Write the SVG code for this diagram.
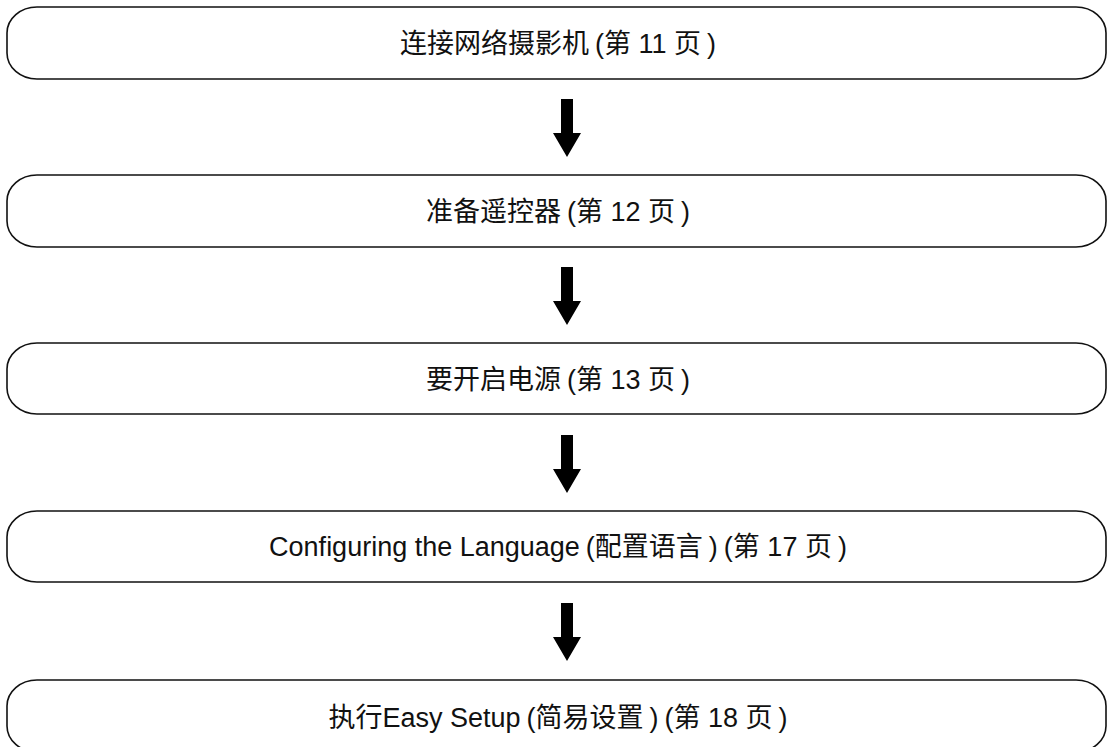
<svg xmlns="http://www.w3.org/2000/svg" width="1107" height="747" viewBox="0 0 1107 747">
<style>
.box{fill:#fff;stroke:#111;stroke-width:1.6}
.lbl{font-family:"Liberation Sans","Noto Sans CJK SC",sans-serif;font-size:27px;fill:#111;text-anchor:middle}
.arr{fill:#000}
</style>
<defs>
<path id="arrow" d="M561,0 H573 V34 H581 L567,58 L553,34 H561 Z"/>
</defs>
<rect width="1107" height="747" fill="#fff"/>
<g id="node1"><rect class="box" x="7" y="7" width="1099" height="72" rx="30" ry="26"/><text class="lbl" x="558" y="53">连接网络摄影机<tspan dx="6">(</tspan>第 11 页<tspan dx="6">)</tspan></text></g>
<g id="node2"><rect class="box" x="7" y="175" width="1099" height="72" rx="30" ry="26"/><text class="lbl" x="558" y="221">准备遥控器<tspan dx="6">(</tspan>第 12 页<tspan dx="6">)</tspan></text></g>
<g id="node3"><rect class="box" x="7" y="343" width="1099" height="71" rx="30" ry="26"/><text class="lbl" x="558" y="389">要开启电源<tspan dx="6">(</tspan>第 13 页<tspan dx="6">)</tspan></text></g>
<g id="node4"><rect class="box" x="7" y="511" width="1099" height="71" rx="30" ry="26"/><text class="lbl" x="558" y="556">Configuring the Language<tspan dx="6">(</tspan>配置语言<tspan dx="6">)</tspan><tspan dx="6">(</tspan>第 17 页<tspan dx="6">)</tspan></text></g>
<g id="node5"><rect class="box" x="7" y="680" width="1099" height="72" rx="30" ry="26"/><text class="lbl" x="558" y="727">执行Easy Setup<tspan dx="6">(</tspan>简易设置<tspan dx="6">)</tspan><tspan dx="6">(</tspan>第 18 页<tspan dx="6">)</tspan></text></g>
<g id="connectors">
<use href="#arrow" class="arr" y="99"/>
<use href="#arrow" class="arr" y="267"/>
<use href="#arrow" class="arr" y="435"/>
<use href="#arrow" class="arr" y="603"/>
</g>
</svg>
